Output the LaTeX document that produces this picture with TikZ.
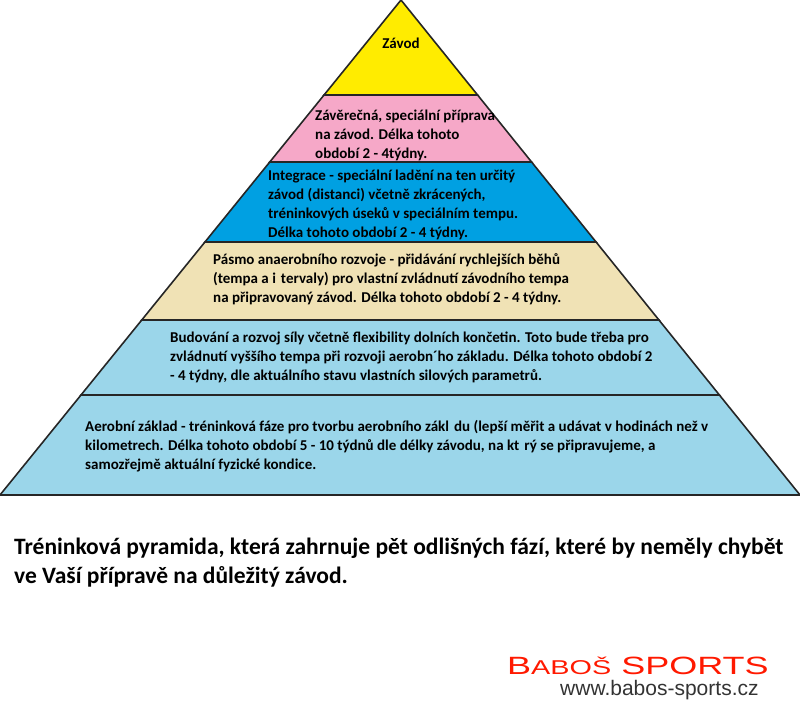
\documentclass[tikz,border=0pt]{standalone}
\usepackage{fontspec}
\setmainfont{Carlito}
\newfontfamily\logo{Liberation Sans}
\begin{document}
\begin{tikzpicture}[x=1pt,y=-1pt,
  band/.style={draw=black!85,line width=1.6pt,line join=miter},
  txt/.style={anchor=west,font=\bfseries\fontsize{15}{19}\selectfont,align=left,inner sep=0pt}]
\useasboundingbox (0,0) rectangle (800,727);
\def\L#1{401-0.81010*#1}
\def\R#1{401+0.80606*#1}
\definecolor{cyel}{RGB}{255,236,0}
\definecolor{cpink}{RGB}{246,168,200}
\definecolor{cblue}{RGB}{0,160,226}
\definecolor{cbeige}{RGB}{240,226,181}
\definecolor{clb}{RGB}{155,214,234}
\foreach \a/\b/\c in {0/95/cyel,95/162/cpink,162/242/cblue,242/320/cbeige,320/395/clb,395/495/clb}{
  \draw[band,fill=\c] ({\L{\a}},\a) -- ({\R{\a}},\a) -- ({\R{\b}},\b) -- ({\L{\b}},\b) -- cycle;
}
\node[txt,anchor=center] (t1) at (401,43) {Závod};
\node[txt] (t2) at (315,135) {Závěrečná, speciální příprava\\na závod. Délka tohoto\\období 2 - 4týdny.};
\node[txt] (t3) at (268,205) {Integrace - speciální ladění na ten určitý\\závod (distanci) včetně zkrácených,\\tréninkových úseků v speciálním tempu.\\Délka tohoto období 2 - 4 týdny.};
\node[txt] (t4) at (213,279) {Pásmo anaerobního rozvoje - přidávání rychlejších běhů\\(tempa a i\,\,tervaly) pro vlastní zvládnutí závodního tempa\\na připravovaný závod. Délka tohoto období 2 - 4 týdny.};
\node[txt] (t5) at (170,357) {Budování a rozvoj síly včetně flexibility dolních končetin. Toto bude třeba pro\\zvládnutí vyššího tempa při rozvoji aerobn´ho základu. Délka tohoto období 2\\- 4 týdny, dle aktuálního stavu vlastních silových parametrů.};
\node[txt] (t6) at (85,446) {Aerobní základ - tréninková fáze pro tvorbu aerobního zákl\,\,du (lepší měřit a udávat v hodinách než v\\kilometrech. Délka tohoto období 5 - 10 týdnů dle délky závodu, na kt\,\,rý se připravujeme, a\\samozřejmě aktuální fyzické kondice.};
\node[txt,font=\bfseries\fontsize{23.5}{29}\selectfont] (cap) at (14,563) {Tréninková pyramida, která zahrnuje pět odlišných fází, které by neměly chybět\\ve Vaší přípravě na důležitý závod.};
\node[anchor=west,inner sep=0pt,text=orange!20!red,font=\logo\fontsize{25}{25}\selectfont] (logo) at (507,666) {\scalebox{1.44}[1]{B\scalebox{0.8}{ABOŠ} SPORTS}};
\node[anchor=west,inner sep=0pt,text=black!80,font=\logo\fontsize{21}{21}\selectfont] (url) at (560,690) {www.babos-sports.cz};
\end{tikzpicture}
\end{document}
